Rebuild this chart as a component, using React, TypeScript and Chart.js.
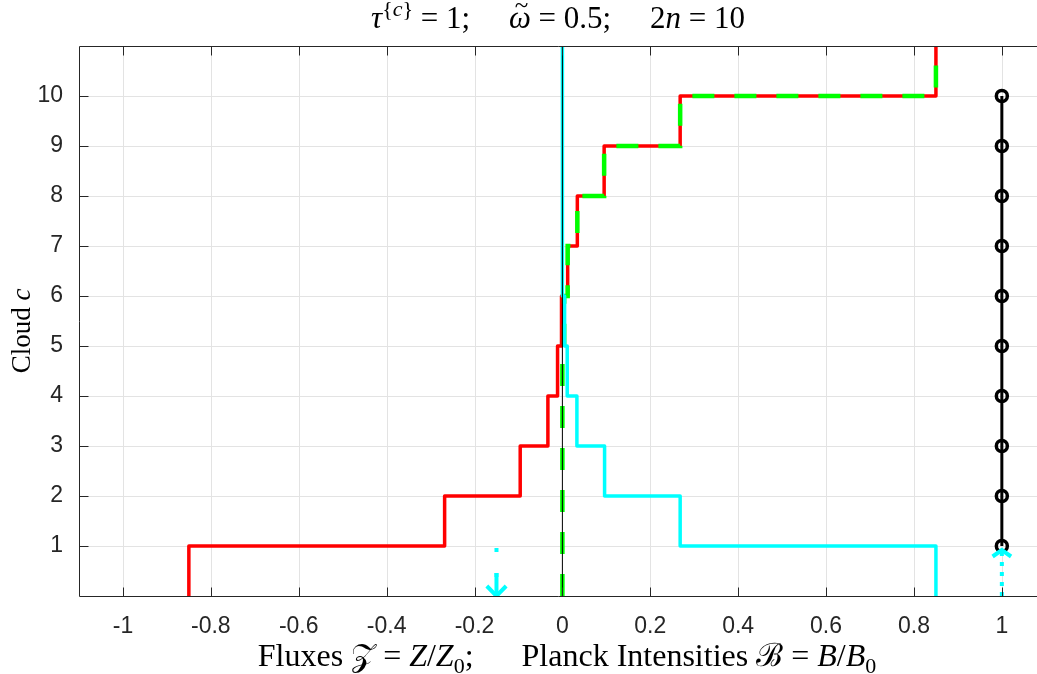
import React, { useEffect, useRef } from 'react';
import { Chart, registerables } from 'chart.js';

Chart.register(...registerables);

// ---------- data ----------
const layerBounds = [0, 1, 2, 3, 4, 5, 6, 7, 8, 9, 10, 11];
const netFlux = [-0.85, -0.268, -0.096, -0.033, -0.011, -0.002, 0.012, 0.034, 0.095, 0.268, 0.85];
const downFlux = [0, 0, 0, 0, 0, 0.004, 0.012, 0.034, 0.095, 0.268, 0.85];
const upFlux = [0.85, 0.268, 0.096, 0.033, 0.011, 0.005, 0, 0, 0, 0, 0];
const planckLevels = [1, 2, 3, 4, 5, 6, 7, 8, 9, 10];
const planckB = [1, 1, 1, 1, 1, 1, 1, 1, 1, 1];
const zeroLineX = [0, 0];
const zeroLineY = [0, 11];
const arrowX = [-0.15, 1];
const arrowFrom = [0.96, 0];
const arrowTo = [0, 0.92];
const xTicks = [-1, -0.8, -0.6, -0.4, -0.2, 0, 0.2, 0.4, 0.6, 0.8, 1];
const yTicks = [1, 2, 3, 4, 5, 6, 7, 8, 9, 10];

// ---------- styles ----------
const AXIS = '#262626';
const GRID = '#e3e3e3';
const RED = '#ff0000';
const GREEN = '#00ff00';
const CYAN = '#00ffff';
const SANS = '"Liberation Sans", Arial, sans-serif';
const SERIF = '"Liberation Serif", "DejaVu Serif", serif';
const HEAD_HW = [0.022, 0.021]; // arrow head half widths (x units)
const HEAD_LEN = [0.2, 0.13]; // arrow head lengths (y units)
const STEM_LEN = [0.46, 0];
const SHAFT_DASH = [[4, 21], [4, 6]];

function stairs(vals: number[]) {
  const pts: { x: number; y: number }[] = [];
  vals.forEach((v, i) => {
    pts.push({ x: v, y: layerBounds[i] });
    pts.push({ x: v, y: layerBounds[i + 1] });
  });
  return pts;
}

type Seg = { t: string; f: 'r' | 'i' | 'it' | 'sub' | 'sup' | 'supi' };

function drawRich(ctx: CanvasRenderingContext2D, segs: Seg[], cx: number, baseY: number, size: number) {
  const fontFor = (f: Seg['f']) => {
    if (f === 'r') return `${size}px ${SERIF}`;
    if (f === 'i' || f === 'it') return `italic ${size}px ${SERIF}`;
    if (f === 'sub' || f === 'sup') return `${Math.round(size * 0.7)}px ${SERIF}`;
    return `italic ${Math.round(size * 0.7)}px ${SERIF}`;
  };
  const dyFor = (f: Seg['f']) => (f === 'sub' ? size * 0.22 : f === 'sup' || f === 'supi' ? -size * 0.4 : 0);
  let w = 0;
  const widths: number[] = [];
  for (const s of segs) {
    ctx.font = fontFor(s.f);
    const m = ctx.measureText(s.t).width;
    widths.push(m);
    w += m;
  }
  let x = cx - w / 2;
  ctx.textAlign = 'left';
  ctx.textBaseline = 'alphabetic';
  ctx.fillStyle = '#000';
  segs.forEach((s, i) => {
    ctx.font = fontFor(s.f);
    ctx.fillText(s.t, x, baseY + dyFor(s.f));
    if (s.f === 'it') {
      ctx.font = `${Math.round(size * 0.8)}px ${SERIF}`;
      ctx.textAlign = 'center';
      ctx.fillText('~', x + widths[i] / 2 + size * 0.05, baseY - size * 0.5);
      ctx.textAlign = 'left';
    }
    x += widths[i];
  });
}

const titleSegs: Seg[] = [
  { t: 'τ', f: 'i' },
  { t: '{', f: 'sup' },
  { t: 'c', f: 'supi' },
  { t: '}', f: 'sup' },
  { t: ' = 1;     ', f: 'r' },
  { t: 'ω', f: 'it' },
  { t: ' = 0.5;     2', f: 'r' },
  { t: 'n', f: 'i' },
  { t: ' = 10', f: 'r' },
];

const xLabelSegs: Seg[] = [
  { t: 'Fluxes ', f: 'r' },
  { t: '𝒵', f: 'r' },
  { t: ' = ', f: 'r' },
  { t: 'Z', f: 'i' },
  { t: '/', f: 'r' },
  { t: 'Z', f: 'i' },
  { t: '0', f: 'sub' },
  { t: ';      Planck Intensities ', f: 'r' },
  { t: 'ℬ', f: 'r' },
  { t: ' = ', f: 'r' },
  { t: 'B', f: 'i' },
  { t: '/', f: 'r' },
  { t: 'B', f: 'i' },
  { t: '0', f: 'sub' },
];

const yLabelSegs: Seg[] = [
  { t: 'Cloud ', f: 'r' },
  { t: 'c', f: 'i' },
];

// grid below data
const gridPlugin = {
  id: 'gridUnder',
  beforeDatasetsDraw(chart: any) {
    const { ctx, chartArea: a, scales } = chart;
    ctx.save();
    ctx.strokeStyle = GRID;
    ctx.lineWidth = 1;
    ctx.beginPath();
    for (const v of xTicks) {
      const px = Math.round(scales.x.getPixelForValue(v)) + 0.5;
      ctx.moveTo(px, a.top);
      ctx.lineTo(px, a.bottom);
    }
    for (const v of yTicks) {
      const py = Math.round(scales.y.getPixelForValue(v)) + 0.5;
      ctx.moveTo(a.left, py);
      ctx.lineTo(a.right, py);
    }
    ctx.stroke();
    ctx.restore();
  },
};

const framePlugin = {
  id: 'frame',
  afterDraw(chart: any) {
    const { ctx, chartArea: a, scales, width } = chart;
    const tl = 9;
    ctx.save();
    const L = Math.round(a.left) + 0.5;
    const T = Math.round(a.top) + 0.5;
    const B = Math.round(a.bottom) + 0.5;
    // the axes box is open on the right (cut off by the figure edge)
    const edge = Math.min(a.right, width) - 9;
    ctx.fillStyle = '#fff';
    ctx.fillRect(edge, T + 1, width - edge + 5, B - T - 2);
    ctx.strokeStyle = GRID;
    ctx.lineWidth = 1;
    ctx.beginPath();
    for (const v of yTicks) {
      const py = Math.round(scales.y.getPixelForValue(v)) + 0.5;
      ctx.moveTo(edge, py);
      ctx.lineTo(width + 2, py);
    }
    ctx.stroke();

    ctx.strokeStyle = AXIS;
    ctx.beginPath();
    ctx.moveTo(L, T);
    ctx.lineTo(width + 5, T);
    ctx.moveTo(L, T);
    ctx.lineTo(L, B);
    ctx.lineTo(width + 5, B);
    for (const v of xTicks) {
      const px = Math.round(scales.x.getPixelForValue(v)) + 0.5;
      ctx.moveTo(px, B);
      ctx.lineTo(px, B - tl);
      ctx.moveTo(px, T);
      ctx.lineTo(px, T + tl);
    }
    for (const v of yTicks) {
      const py = Math.round(scales.y.getPixelForValue(v)) + 0.5;
      ctx.moveTo(L, py);
      ctx.lineTo(L + tl, py);
    }
    ctx.stroke();

    // titles
    const cx = scales.x.getPixelForValue(-0.01);
    drawRich(ctx, titleSegs, cx, 28, 31);
    drawRich(ctx, xLabelSegs, cx + 9, 666, 32);
    ctx.translate(30, (a.top + a.bottom) / 2 + 10);
    ctx.rotate(-Math.PI / 2);
    drawRich(ctx, yLabelSegs, 0, 0, 27);
    ctx.restore();
  },
};

export default function App() {
  const ref = useRef<HTMLCanvasElement | null>(null);

  useEffect(() => {
    document.body.style.margin = '0';
    document.body.style.overflow = 'hidden';
    if (!ref.current) return;

    const arrowSets: any[] = [];
    arrowX.forEach((x, i) => {
      const y0 = arrowFrom[i];
      const y1 = arrowTo[i];
      const dir = y1 > y0 ? 1 : -1;
      arrowSets.push({
        data: [{ x, y: y0 }, { x, y: y1 }],
        borderColor: CYAN,
        borderWidth: 4,
        borderDash: SHAFT_DASH[i],
        borderCapStyle: 'butt',
        pointRadius: 0,
        showLine: true,
        order: 1,
      });
      arrowSets.push({
        data: [
          { x: x - HEAD_HW[i], y: y1 - dir * HEAD_LEN[i] },
          { x, y: y1 },
          { x: x + HEAD_HW[i], y: y1 - dir * HEAD_LEN[i] },
        ],
        borderColor: CYAN,
        borderWidth: 4,
        pointRadius: 0,
        showLine: true,
        order: 1,
      });
      if (STEM_LEN[i] > 0) {
        arrowSets.push({
          data: [{ x, y: y1 }, { x, y: y1 - dir * STEM_LEN[i] }],
          borderColor: CYAN,
          borderWidth: 4,
          pointRadius: 0,
          showLine: true,
          order: 1,
        });
      }
    });

    const chart = new Chart(ref.current, {
      type: 'scatter',
      data: {
        datasets: [
          {
            data: zeroLineX.map((x, i) => ({ x, y: zeroLineY[i] })),
            borderColor: '#000',
            borderWidth: 1,
            pointRadius: 0,
            showLine: true,
            order: 0,
          },
          ...arrowSets,
          {
            data: planckLevels.map((y, i) => ({ x: planckB[i], y })),
            borderColor: '#000',
            borderWidth: 3,
            pointRadius: 5.5,
            pointBorderWidth: 3.5,
            pointBorderColor: '#000',
            pointBackgroundColor: 'rgba(0,0,0,0)',
            showLine: true,
            order: 2,
          },
          {
            data: stairs(upFlux),
            borderColor: CYAN,
            borderWidth: 3.5,
            borderJoinStyle: 'round',
            pointRadius: 0,
            showLine: true,
            order: 3,
          },
          {
            data: stairs(downFlux),
            borderColor: GREEN,
            borderWidth: 4.5,
            borderDash: [22, 20],
            borderCapStyle: 'butt',
            pointRadius: 0,
            showLine: true,
            order: 4,
          },
          {
            data: stairs(netFlux),
            borderColor: RED,
            borderWidth: 3.5,
            borderJoinStyle: 'round',
            pointRadius: 0,
            showLine: true,
            order: 5,
          },
        ],
      },
      options: {
        animation: false,
        responsive: true,
        maintainAspectRatio: false,
        layout: { autoPadding: false, padding: { left: 0, right: -3, top: 46, bottom: 0 } },
        plugins: {
          legend: { display: false },
          tooltip: { enabled: false },
          title: { display: false },
        },
        scales: {
          x: {
            type: 'linear',
            min: -1.1,
            max: 1.08,
            afterBuildTicks: (s: any) => {
              s.ticks = xTicks.map((v) => ({ value: v }));
            },
            afterFit: (s: any) => {
              s.height = 78;
              s.paddingLeft = 0;
              s.paddingRight = 0;
            },
            ticks: {
              callback: (v: any) => String(v),
              font: { family: SANS, size: 23 },
              color: AXIS,
              padding: 17,
              maxRotation: 0,
              autoSkip: false,
            },
            grid: { display: false, drawTicks: false },
            border: { display: false },
          },
          y: {
            type: 'linear',
            min: 0,
            max: 11,
            afterBuildTicks: (s: any) => {
              s.ticks = yTicks.map((v) => ({ value: v }));
            },
            afterFit: (s: any) => {
              s.width = 79;
              s.paddingTop = 0;
              s.paddingBottom = 0;
            },
            ticks: {
              callback: (v: any) => String(v),
              font: { family: SANS, size: 23 },
              color: AXIS,
              padding: 16,
              autoSkip: false,
            },
            grid: { display: false, drawTicks: false },
            border: { display: false },
          },
        },
      },
      plugins: [gridPlugin, framePlugin],
    });
    return () => chart.destroy();
  }, []);

  return (
    <div style={{ width: 1037, height: 674, position: 'relative', overflow: 'hidden' }}>
      <canvas ref={ref} style={{ display: 'block' }} />
    </div>
  );
}
